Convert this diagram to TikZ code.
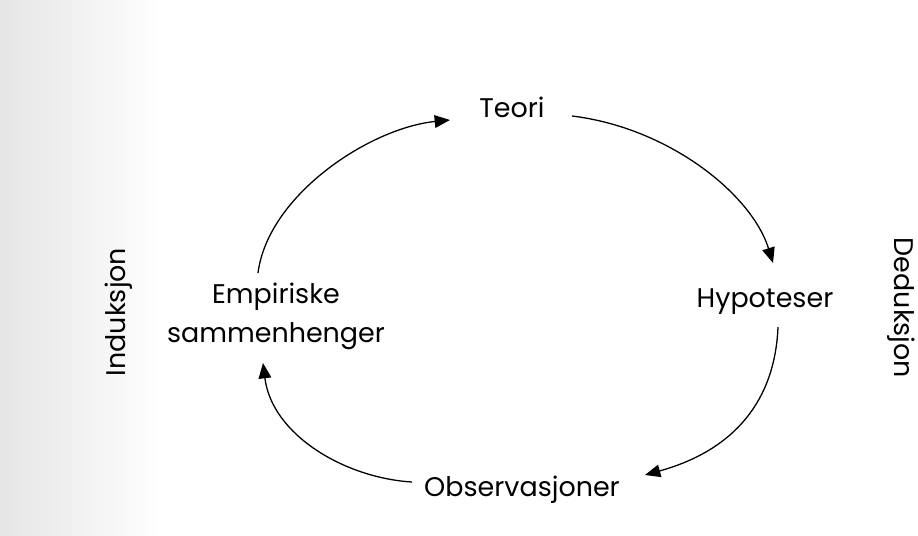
\documentclass[tikz,border=0pt]{standalone}
\usepackage{fontspec}
\setmainfont{Poppins}
\usepackage{tikz}
\usetikzlibrary{positioning,arrows.meta}

\tikzset{
  label/.style={inner sep=0pt, anchor=base, font=\fontsize{23}{33}\selectfont},
  side/.style={inner sep=0pt, anchor=base, font=\fontsize{23}{27}\selectfont},
  flow/.style={-{Stealth[length=4.6mm,width=3.8mm,inset=0pt]}, line width=1.1pt},
}

\begin{document}
\begin{tikzpicture}[x=0.03cm,y=-0.03cm]
      \useasboundingbox (0,0) rectangle (918,536);
      \shade[left color=black!10, right color=white] (0,0) rectangle (165,536);
      \node[label] (teori) at (512, 118) {Teori};
      \node[label] (hypo) at (765, 307) {Hypoteser};
      \node[label] (obs) at (522, 496) {Observasjoner};
      \node[label, align=center] (emp) at (276, 342) {Empiriske\\sammenhenger};
      \node[side, rotate=90] (ind) at (125, 312) {Induksjon};
      \node[side, rotate=-90] (ded) at (894, 308) {Deduksjon};
      \draw[flow] ([shift={(-18,-69)}]emp.base) .. controls +(10,-78) and +(-80,8) .. ([shift={(-62,2)}]teori.base);
      \draw[flow] ([shift={(60,-2)}]teori.base) .. controls +(98,12) and +(-21,-68) .. ([shift={(8,-44)}]hypo.base);
      \draw[flow] ([shift={(13,20)}]hypo.base) .. controls +(-3,73) and +(90,-25) .. ([shift={(123,-21)}]obs.base);
      \draw[flow] ([shift={(-110,-14)}]obs.base) .. controls +(-67,-4) and +(9,72) .. ([shift={(-13,21)}]emp.base);
\end{tikzpicture}
\end{document}
